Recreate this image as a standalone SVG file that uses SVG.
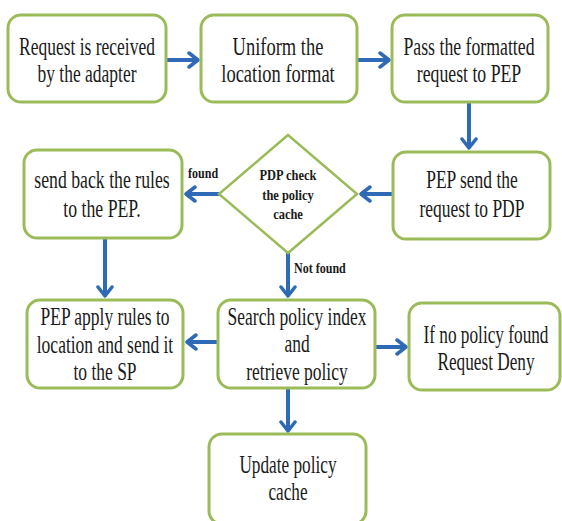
<svg xmlns="http://www.w3.org/2000/svg" width="562" height="521" viewBox="0 0 562 521">
<defs>
<style>
.box{fill:#ffffff;stroke:#9BBB59;stroke-width:3}
text{font-family:'Liberation Serif','Times New Roman',serif;fill:#1a1a1a;text-anchor:middle}
.t{font-size:25px}
.d{font-size:15px;font-weight:bold}
.lbl{font-size:14px;font-weight:bold;text-anchor:start}
.c{stroke:#2E6AB5;stroke-width:4;fill:none;marker-end:url(#ah)}
</style>
<marker id="ah" markerUnits="userSpaceOnUse" viewBox="-12 -10 14 20" refX="0" refY="0" markerWidth="14" markerHeight="20" orient="auto">
<path d="M-9,-7 L0,0 L-9,7" fill="none" stroke="#2E6AB5" stroke-width="3.5" stroke-linecap="round" stroke-linejoin="round"/>
</marker>
</defs>
<rect width="562" height="521" fill="#ffffff"/>
<g id="connectors">
<line class="c" x1="166" y1="60" x2="198" y2="60"/>
<line class="c" x1="357" y1="60" x2="389" y2="60"/>
<line class="c" x1="469" y1="103" x2="469" y2="148"/>
<line class="c" x1="393" y1="194" x2="361" y2="194"/>
<line class="c" x1="219" y1="194" x2="186" y2="194"/>
<line class="c" x1="105" y1="239" x2="105" y2="296"/>
<line class="c" x1="288" y1="253" x2="288" y2="296"/>
<line class="c" x1="218" y1="342" x2="187" y2="342"/>
<line class="c" x1="375" y1="347" x2="406" y2="347"/>
<line class="c" x1="288" y1="389" x2="288" y2="431"/>
<text class="lbl" transform="translate(188,178) scale(0.86,1)">found</text>
<text class="lbl" transform="translate(294,273) scale(0.86,1)">Not found</text>
</g>
<g id="n1">
<rect class="box" x="8" y="15" width="158" height="87" rx="13"/>
<g transform="translate(87,0) scale(0.7,1)">
<text class="t" x="0" y="55">Request is received</text>
<text class="t" x="0" y="82">by the adapter</text>
</g>
</g>
<g id="n2">
<rect class="box" x="201" y="15" width="156" height="87" rx="13"/>
<g transform="translate(278,0) scale(0.74,1)">
<text class="t" x="0" y="55">Uniform the</text>
<text class="t" x="0" y="82">location format</text>
</g>
</g>
<g id="n3">
<rect class="box" x="392" y="15" width="156" height="87" rx="13"/>
<g transform="translate(469,0) scale(0.71,1)">
<text class="t" x="0" y="55">Pass the formatted</text>
<text class="t" x="0" y="82">request to PEP</text>
</g>
</g>
<g id="n4">
<rect class="box" x="393" y="152" width="157" height="87" rx="13"/>
<g transform="translate(472,0) scale(0.7,1)">
<text class="t" x="0" y="188">PEP send the</text>
<text class="t" x="0" y="217">request to PDP</text>
</g>
</g>
<g id="n5">
<polygon points="288,135 357,194 288,253 219,194" fill="#ffffff" stroke="#9BBB59" stroke-width="2.5"/>
<g transform="translate(288,0) scale(0.83,1)">
<text class="d" x="0" y="180">PDP check</text>
<text class="d" x="0" y="200">the policy</text>
<text class="d" x="0" y="219">cache</text>
</g>
</g>
<g id="n6">
<rect class="box" x="24" y="150" width="158" height="88" rx="13"/>
<g transform="translate(102,0) scale(0.71,1)">
<text class="t" x="0" y="188">send back the rules</text>
<text class="t" x="0" y="217">to the PEP.</text>
</g>
</g>
<g id="n7">
<rect class="box" x="27" y="300" width="156" height="88" rx="13"/>
<g transform="translate(105,0) scale(0.7,1)">
<text class="t" x="0" y="325">PEP apply rules to</text>
<text class="t" x="0" y="353">location and send it</text>
<text class="t" x="0" y="380">to the SP</text>
</g>
</g>
<g id="n8">
<rect class="box" x="218" y="300" width="157" height="88" rx="13"/>
<g transform="translate(297,0) scale(0.7,1)">
<text class="t" x="0" y="325">Search policy index</text>
<text class="t" x="0" y="352">and</text>
<text class="t" x="0" y="380">retrieve policy</text>
</g>
</g>
<g id="n9">
<rect class="box" x="409" y="303" width="151" height="87" rx="13"/>
<g transform="translate(486,0) scale(0.69,1)">
<text class="t" x="0" y="343">If no policy found</text>
<text class="t" x="0" y="370">Request Deny</text>
</g>
</g>
<g id="n10">
<rect class="box" x="209" y="434" width="157" height="90" rx="13"/>
<g transform="translate(288,0) scale(0.69,1)">
<text class="t" x="0" y="473">Update policy</text>
<text class="t" x="0" y="500">cache</text>
</g>
</g>
</svg>
